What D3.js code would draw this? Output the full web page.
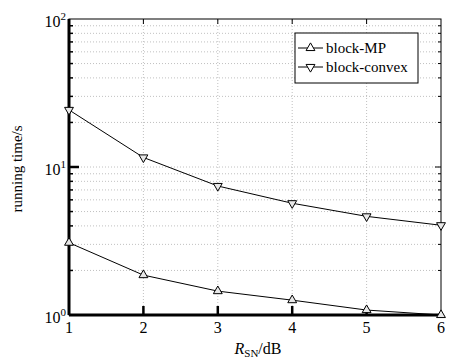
<!DOCTYPE html>
<html>
<head>
<meta charset="utf-8">
<script src="https://cdn.jsdelivr.net/npm/d3@7"></script>
<style>
  body { margin: 0; background: #fff; }
</style>
</head>
<body>
<div id="chart"></div>
<script>
const snr = [1, 2, 3, 4, 5, 6];
const blockMP = [3.08, 1.86, 1.45, 1.26, 1.08, 1.0];
const blockConvex = [24.3, 11.6, 7.44, 5.69, 4.64, 4.04];
const seriesNames = ["block-MP", "block-convex"];
const yDecades = [1, 10, 100];

const W = 449, H = 359;
const m = {left: 69, right: 8, top: 19, bottom: 44};
const FONT = "'Liberation Serif'";

const svg = d3.select("#chart").append("svg")
  .attr("width", W).attr("height", H);

const x = d3.scaleLinear().domain([1, 6]).range([m.left, W - m.right]);
const y = d3.scaleLog().domain([1, 100]).range([H - m.bottom, m.top]);

// minor values 2..9 per decade
const minor = [];
yDecades.slice(0, -1).forEach(d => { for (let k = 2; k <= 9; k++) minor.push(d * k); });

// grid
const grid = svg.append("g").attr("stroke", "#b0b0b0").attr("stroke-width", 0.8)
  .attr("stroke-dasharray", "1,2");
grid.selectAll("line.gx").data(snr.slice(1, -1)).enter().append("line")
  .attr("x1", d => x(d)).attr("x2", d => x(d))
  .attr("y1", y(1)).attr("y2", y(100));
grid.selectAll("line.gy").data(minor.concat([10])).enter().append("line")
  .attr("x1", x(1)).attr("x2", x(6))
  .attr("y1", d => y(d)).attr("y2", d => y(d));

// frame
svg.append("rect").attr("x", x(1)).attr("y", y(100))
  .attr("width", x(6) - x(1)).attr("height", y(1) - y(100))
  .attr("fill", "none").attr("stroke", "#000").attr("stroke-width", 1);

// thick left and bottom axis
svg.append("line").attr("x1", x(1)).attr("x2", x(1)).attr("y1", y(100)).attr("y2", y(1))
  .attr("stroke", "#000").attr("stroke-width", 3);
svg.append("line").attr("x1", x(1)).attr("x2", x(6)).attr("y1", y(1)).attr("y2", y(1))
  .attr("stroke", "#000").attr("stroke-width", 3);

// ticks
const ticks = svg.append("g").attr("stroke", "#000");
ticks.selectAll("line.xb").data(snr.slice(1, -1)).enter().append("line")
  .attr("x1", d => x(d)).attr("x2", d => x(d))
  .attr("y1", y(1)).attr("y2", y(1) - 9).attr("stroke-width", 2.5);
ticks.selectAll("line.xt").data(snr.slice(1, -1)).enter().append("line")
  .attr("x1", d => x(d)).attr("x2", d => x(d))
  .attr("y1", y(100)).attr("y2", y(100) + 5).attr("stroke-width", 1);
ticks.selectAll("line.yl").data([10]).enter().append("line")
  .attr("x1", x(1)).attr("x2", x(1) + 10)
  .attr("y1", d => y(d)).attr("y2", d => y(d)).attr("stroke-width", 2.5);
ticks.selectAll("line.ylm").data(minor).enter().append("line")
  .attr("x1", x(1)).attr("x2", x(1) + 4)
  .attr("y1", d => y(d)).attr("y2", d => y(d)).attr("stroke-width", 1.5);
ticks.selectAll("line.yr").data(minor.concat([10])).enter().append("line")
  .attr("x1", x(6)).attr("x2", d => x(6) - (d === 10 ? 6 : 3))
  .attr("y1", d => y(d)).attr("y2", d => y(d)).attr("stroke-width", 1);

// tick labels
svg.selectAll("text.xl").data(snr).enter().append("text")
  .attr("font-family", FONT)
  .attr("x", d => x(d)).attr("y", y(1) + 18)
  .attr("text-anchor", "middle").attr("font-size", 16)
  .text(d => d);

const yl = svg.selectAll("text.yl").data(yDecades).enter().append("text")
  .attr("font-family", FONT)
  .attr("x", x(1) - 3).attr("y", d => y(d) + 7.5)
  .attr("text-anchor", "end").attr("font-size", 16);
yl.append("tspan").text("10");
yl.append("tspan").attr("font-size", 11).attr("dy", -7).text(d => Math.round(Math.log10(d)));

// axis titles
const xt = svg.append("text").attr("font-family", FONT)
  .attr("x", (x(1) + x(6)) / 2 + 3).attr("y", H - 5)
  .attr("text-anchor", "middle").attr("font-size", 16);
xt.append("tspan").attr("font-style", "italic").text("R");
xt.append("tspan").attr("font-size", 11).attr("dy", 3).text("SN");
xt.append("tspan").attr("dy", -3).text("/dB");

svg.append("text").attr("font-family", FONT)
  .attr("transform", `translate(22,${(y(1) + y(100)) / 2 + 2}) rotate(-90)`)
  .attr("text-anchor", "middle").attr("font-size", 15)
  .text("running time/s");

// series
const line = d3.line().x((d, i) => x(snr[i])).y(d => y(d));
const up = d3.symbol().type(d3.symbolTriangle).size(34);

function drawSeries(vals, flip) {
  svg.append("path").datum(vals).attr("d", line)
    .attr("fill", "none").attr("stroke", "#000").attr("stroke-width", 1);
  svg.selectAll(null).data(vals).enter().append("path")
    .attr("d", up)
    .attr("transform", (d, i) => `translate(${x(snr[i])},${y(d)})` + (flip ? " rotate(180)" : ""))
    .attr("fill", "#e8e8e8").attr("stroke", "#000").attr("stroke-width", 1);
}
drawSeries(blockMP, false);
drawSeries(blockConvex, true);

// legend
const lg = svg.append("g").attr("transform", "translate(295,33)");
lg.append("rect").attr("width", 123).attr("height", 50)
  .attr("fill", "#fff").attr("stroke", "#000").attr("stroke-width", 1);
seriesNames.forEach((name, i) => {
  const ly = 15 + i * 19;
  lg.append("line").attr("x1", 3).attr("x2", 28).attr("y1", ly).attr("y2", ly)
    .attr("stroke", "#000");
  lg.append("path").attr("d", up)
    .attr("transform", `translate(15.5,${ly})` + (i === 1 ? " rotate(180)" : ""))
    .attr("fill", "#fff").attr("stroke", "#000");
  lg.append("text").attr("font-family", FONT)
    .attr("x", 31).attr("y", ly + 5).attr("font-size", 15).text(name);
});
</script>
</body>
</html>
